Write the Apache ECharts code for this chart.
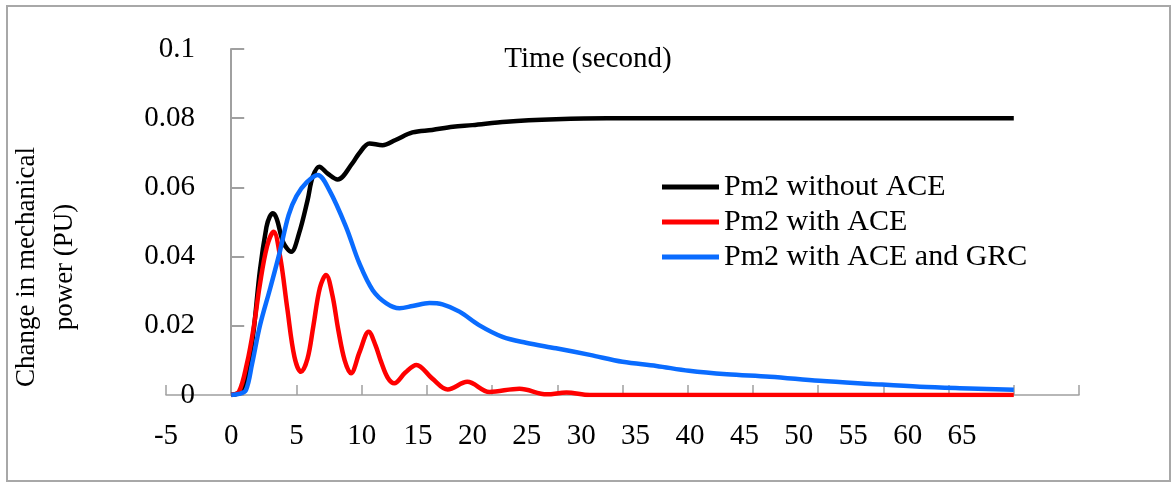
<!DOCTYPE html>
<html>
<head>
<meta charset="utf-8">
<title>Pm2 change in mechanical power</title>
<script src="https://cdn.jsdelivr.net/npm/echarts@6/dist/echarts.min.js"></script>
<style>
  html, body { margin: 0; padding: 0; background: #fff; }
  #chart { width: 1176px; height: 483px; }
  #frame { position: absolute; left: 6px; top: 5px; width: 1161px; height: 473px;
           border: 2px solid #a8a8a8; pointer-events: none; }
</style>
</head>
<body>
<div id="chart"></div>
<div id="frame"></div>
<script>
// tick labels on the time axis
var xTickLabels = [-5, 0, 5, 10, 15, 20, 25, 30, 35, 40, 45, 50, 55, 60, 65];

// Pm2 without ACE (black)
var noAceTime  = [0, 0.7, 1.2, 1.7, 2.2, 2.7, 2.95, 3.2, 3.5, 4.0, 4.6, 5.2, 5.86, 6.24, 6.75, 7.4, 8.16, 9.3, 9.8, 10.6, 11.6, 12.6, 13.9, 15.4, 17, 18.5, 21.1, 24.9, 28.8, 40, 60];
var noAcePower = [0, 0.001, 0.006, 0.018, 0.036, 0.0485, 0.0515, 0.0525, 0.0508, 0.044, 0.0414, 0.0467, 0.0564, 0.063, 0.066, 0.064, 0.0623, 0.067, 0.0698, 0.0727, 0.0722, 0.0737, 0.0759, 0.0766, 0.0775, 0.078, 0.079, 0.0797, 0.08, 0.08, 0.08];

// Pm2 with ACE (red)
var aceTime  = [0, 0.6, 1.2, 1.7, 2.2, 2.75, 3.25, 3.75, 4.3, 4.85, 5.35, 5.85, 6.3, 6.8, 7.27, 7.75, 8.2, 8.7, 9.18, 9.85, 10.54, 11.05, 11.5, 12.0, 12.5, 13.35, 14.2, 15.4, 16.6, 18.1, 19.8, 22.1, 24.2, 25.7, 27.5, 60];
var acePower = [0, 0.001, 0.009, 0.019, 0.032, 0.043, 0.0472, 0.04, 0.025, 0.011, 0.0067, 0.0105, 0.02, 0.031, 0.0347, 0.029, 0.019, 0.01, 0.0063, 0.0125, 0.0183, 0.0145, 0.0095, 0.005, 0.0034, 0.0065, 0.0087, 0.0048, 0.0016, 0.0038, 0.0009, 0.0018, 0.0002, 0.0007, 0, 0];

// Pm2 with ACE and GRC (blue)
var grcTime  = [0, 0.6, 1.13, 1.6, 2.2, 3.0, 3.7, 4.4, 5.0, 5.8, 6.63, 7.52, 8.8, 9.82, 10.85, 11.9, 12.9, 13.9, 15.2, 16.2, 17.5, 19, 20.8, 22.6, 24.9, 27.5, 30, 32.6, 35.1, 38, 41.3, 45.1, 49, 52.8, 56.6, 60];
var grcPower = [0, 0.0003, 0.0014, 0.009, 0.02, 0.031, 0.041, 0.052, 0.0575, 0.0615, 0.0636, 0.0592, 0.0486, 0.0381, 0.0303, 0.0265, 0.0251, 0.0257, 0.0266, 0.0262, 0.0241, 0.0202, 0.0168, 0.0151, 0.0135, 0.0116, 0.0096, 0.0084, 0.007, 0.006, 0.0053, 0.0041, 0.0032, 0.0024, 0.0019, 0.0015];

var serif = '"Liberation Serif", "Times New Roman", serif';
var axisGray = "#a0a0a0";

function pairs(t, v) {
  return t.map(function (x, i) { return [x, v[i]]; });
}

function line(name, color, t, v) {
  return {
    name: name, type: "line", xAxisIndex: 0, data: pairs(t, v),
    showSymbol: false, smooth: 0.35,
    lineStyle: { color: color, width: 4.5 },
    itemStyle: { color: color }
  };
}

var chart = echarts.init(document.getElementById("chart"), null, { renderer: "canvas" });

chart.setOption({
  animation: false,
  backgroundColor: "#fff",
  textStyle: { fontFamily: serif, color: "#000" },
  title: {
    text: "Time (second)", left: "center", top: 40,
    textStyle: { fontFamily: serif, fontSize: 29, fontWeight: "normal", color: "#000" }
  },
  legend: {
    orient: "vertical", left: 662, top: 172, padding: 0, itemGap: 5,
    icon: "rect", itemWidth: 57, itemHeight: 5,
    textStyle: { fontFamily: serif, fontSize: 30, lineHeight: 30, color: "#000" },
    data: ["Pm2 without ACE", "Pm2 with ACE", "Pm2 with ACE and GRC"]
  },
  grid: { left: 166, right: 97, top: 49, bottom: 88, containLabel: false, outerBoundsMode: "none" },
  xAxis: [
    {
      type: "value", min: -5, max: 65, interval: 5, position: "bottom",
      axisLine: { onZero: false, lineStyle: { color: axisGray, width: 1.5 } },
      axisTick: { inside: true, length: 10, lineStyle: { color: axisGray, width: 1.5 } },
      axisLabel: {
        customValues: xTickLabels.filter(function (v) { return v <= 10; }),
        margin: 27, fontFamily: serif, fontSize: 29, color: "#000"
      },
      splitLine: { show: false }
    },
    {
      // the remaining time labels sit closer together than the ticks
      type: "value", min: -8.16, max: 75.75, position: "bottom",
      axisLine: { show: false, onZero: false },
      axisTick: { show: false },
      axisLabel: {
        customValues: xTickLabels.filter(function (v) { return v > 10; }),
        margin: 27, fontFamily: serif, fontSize: 29, color: "#000"
      },
      splitLine: { show: false }
    }
  ],
  yAxis: {
    type: "value", min: 0, max: 0.1, interval: 0.02,
    name: "Change in mechanical\npower (PU)",
    nameLocation: "middle", nameRotate: 90, nameGap: 82,
    nameTextStyle: { fontFamily: serif, fontSize: 27, lineHeight: 38, color: "#000", padding: [0, 90, 0, 0] },
    axisLine: { show: true, onZero: true, onZeroAxisIndex: 0, lineStyle: { color: axisGray, width: 2 } },
    axisTick: { show: true, inside: true, length: 13, lineStyle: { color: axisGray, width: 2 } },
    // labels hang off the grid edge, the line itself sits at time 0
    axisLabel: { margin: -29, fontFamily: serif, fontSize: 29, color: "#000" },
    splitLine: { show: false }
  },
  series: [
    line("Pm2 without ACE", "#000000", noAceTime, noAcePower),
    line("Pm2 with ACE", "#ff0000", aceTime, acePower),
    line("Pm2 with ACE and GRC", "#0a6cff", grcTime, grcPower)
  ]
});
</script>
</body>
</html>
